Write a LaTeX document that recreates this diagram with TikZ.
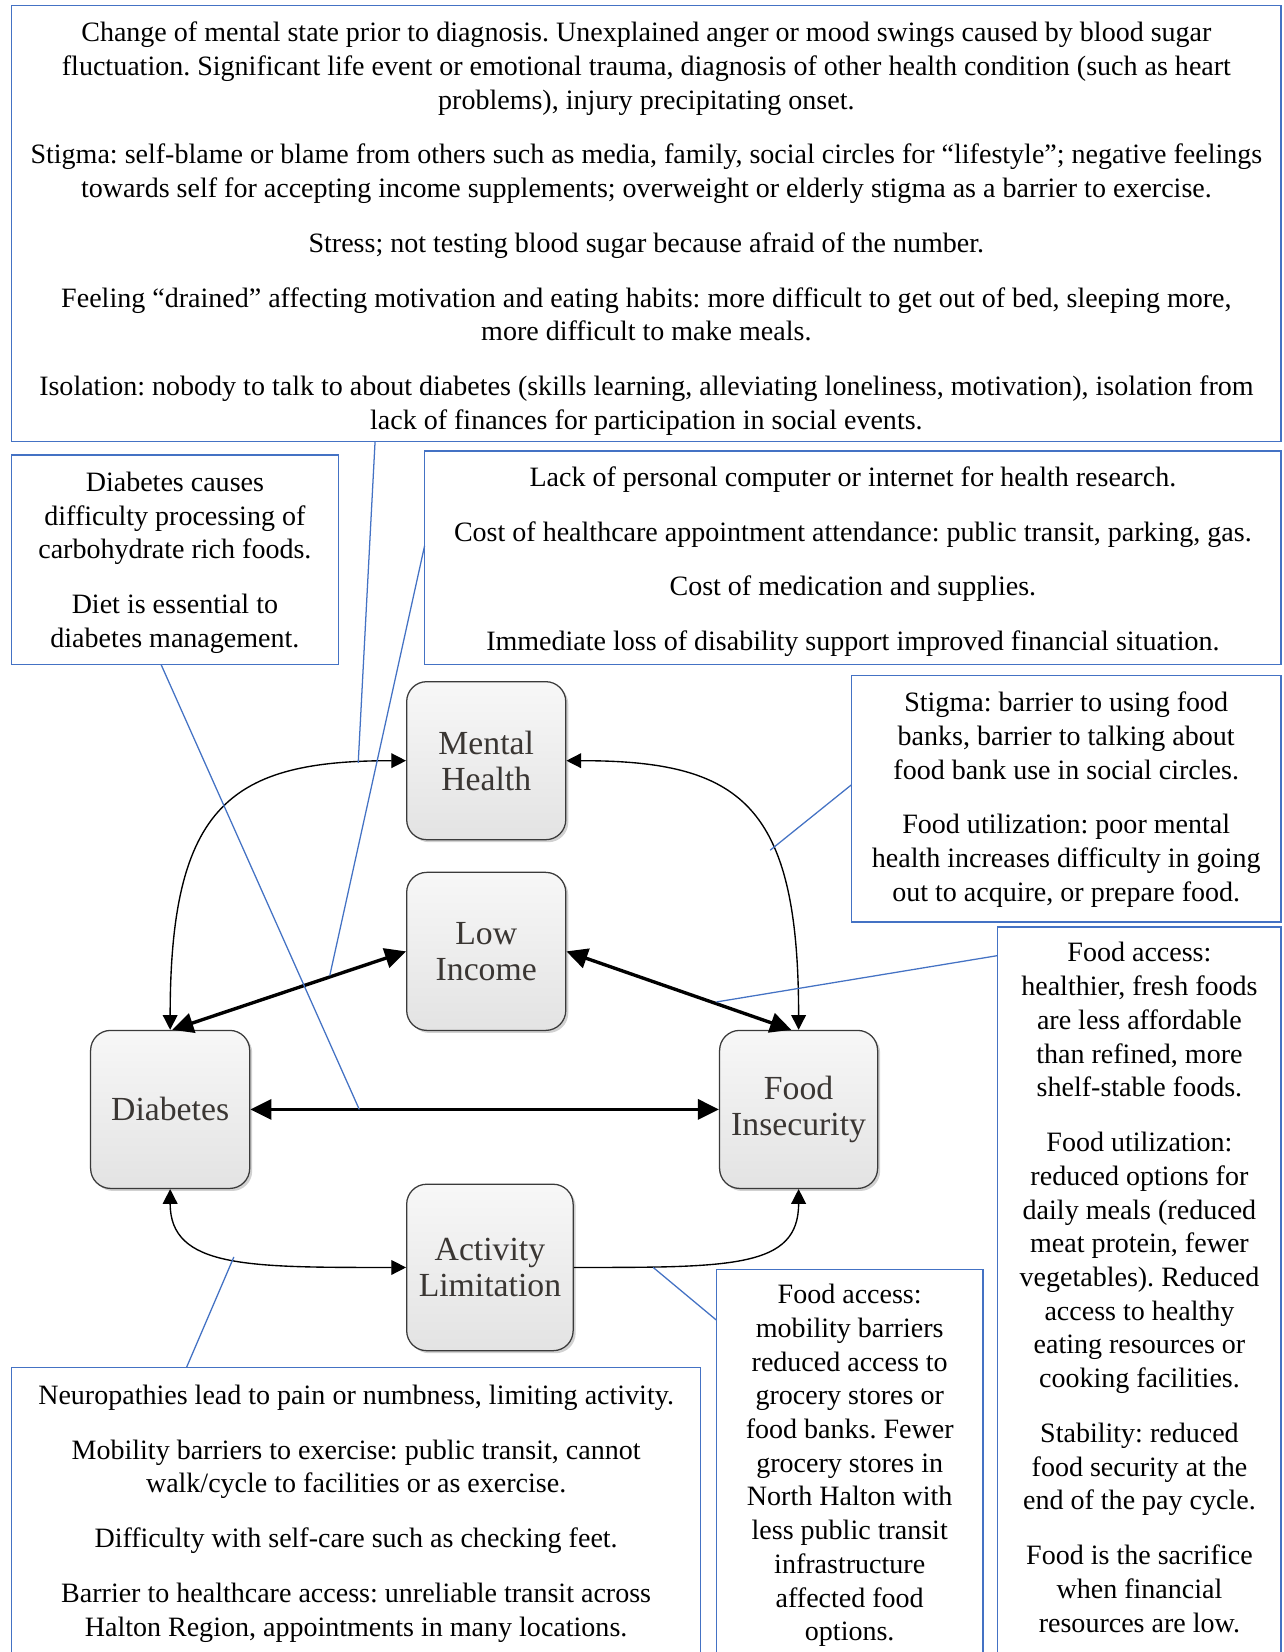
\documentclass[tikz,border=0pt]{standalone}
\usepackage{fontspec}
\setmainfont{Liberation Serif}
\usetikzlibrary{arrows.meta,shadows,fit}
\definecolor{cblue}{HTML}{4472C4}
\definecolor{nodetext}{HTML}{3A3633}
\definecolor{nodeborder}{HTML}{3A3A3A}
\frenchspacing
\begin{document}
\begin{tikzpicture}[x=0.5pt,y=-0.5pt,
  tbox/.style={draw=cblue, line width=0.65pt, inner sep=0pt},
  txt/.style={align=center, font=\fontsize{13.3}{16}\selectfont\frenchspacing, inner sep=0pt, text=black},
  cnode/.style={draw=nodeborder, line width=0.6pt, rounded corners=9.5pt,
    top color=white!97!black, bottom color=white!89!black,
    minimum width=75.5pt, minimum height=75pt, inner sep=0pt, align=center,
    font=\fontsize{16}{17}\selectfont, text=nodetext,
    drop shadow={shadow xshift=1.2pt, shadow yshift=-1.2pt, opacity=0.18, fill=black}},
  thickarrow/.style={line width=1.6pt, {Triangle[length=10pt,width=9.5pt]}-{Triangle[length=10pt,width=9.5pt]}},
  thinarrow/.style={line width=0.65pt, {Triangle[length=7pt,width=7pt]}-{Triangle[length=7pt,width=7pt]}},
  thinarrowone/.style={line width=0.65pt, -{Triangle[length=7pt,width=7pt]}},
  callout/.style={draw=cblue, line width=0.6pt}
]
\useasboundingbox (0,0) rectangle (1218,1568);
\clip (0,0) rectangle (1218,1568);
\fill[white] (0,0) rectangle (1218,1568);

% ---------- text boxes ----------
\node[tbox, fit={(11,5) (1216,419)}] (tb) {};
\node[txt] (tbt) at (613.5,217) {Change of mental state prior to diagnosis. Unexplained anger or mood swings caused by blood sugar\\
fluctuation. Significant life event or emotional trauma, diagnosis of other health condition (such as heart\\
problems), injury precipitating onset.\\[10pt]
Stigma: self-blame or blame from others such as media, family, social circles for “lifestyle”; negative feelings\\
towards self for accepting income supplements; overweight or elderly stigma as a barrier to exercise.\\[10pt]
Stress; not testing blood sugar because afraid of the number.\\[10pt]
Feeling “drained” affecting motivation and eating habits: more difficult to get out of bed, sleeping more,\\
more difficult to make meals.\\[10pt]
Isolation: nobody to talk to about diabetes (skills learning, alleviating loneliness, motivation), isolation from\\
lack of finances for participation in social events.};

\node[tbox, fit={(11,432) (321,631)}] (lb) {};
\node[txt] (lbt) at (166,534) {Diabetes causes\\ difficulty processing of\\ carbohydrate rich foods.\\[10pt]
Diet is essential to\\ diabetes management.};

\node[tbox, fit={(403,428) (1216,631)}] (fb) {};
\node[txt] (fbt) at (809.5,533) {Lack of personal computer or internet for health research.\\[10pt]
Cost of healthcare appointment attendance: public transit, parking, gas.\\[10pt]
Cost of medication and supplies.\\[10pt]
Immediate loss of disability support improved financial situation.};

\node[tbox, fit={(808,641) (1216,875)}] (sb) {};
\node[txt] (sbt) at (1012,759) {Stigma: barrier to using food\\ banks, barrier to talking about\\ food bank use in social circles.\\[10pt]
Food utilization: poor mental\\ health increases difficulty in going\\ out to acquire, or prepare food.};

\node[tbox, fit={(947,880) (1216,1580)}] (rb) {};
\node[txt] (rbt) at (1081.5,1222) {Food access:\\ healthier, fresh foods\\ are less affordable\\ than refined, more\\ shelf-stable foods.\\[10pt]
Food utilization:\\ reduced options for\\ daily meals (reduced\\ meat protein, fewer\\ vegetables). Reduced\\ access to healthy\\ eating resources or\\ cooking facilities.\\[10pt]
Stability: reduced\\ food security at the\\ end of the pay cycle.\\[10pt]
Food is the sacrifice\\ when financial\\ resources are low.};

\node[tbox, fit={(680,1205) (933,1580)}] (mb) {};
\node[txt] (mbt) at (806.5,1391) {Food access:\\ mobility barriers\\ reduced access to\\ grocery stores or\\ food banks. Fewer\\ grocery stores in\\ North Halton with\\ less public transit\\ infrastructure\\ affected food\\ options.};

\node[tbox, fit={(11,1298) (665,1580)}] (bb) {};
\node[txt] (bbt) at (338,1436.5) {Neuropathies lead to pain or numbness, limiting activity.\\[10pt]
Mobility barriers to exercise: public transit, cannot\\ walk/cycle to facilities or as exercise.\\[10pt]
Difficulty with self-care such as checking feet.\\[10pt]
Barrier to healthcare access: unreliable transit across\\ Halton Region, appointments in many locations.};

% ---------- central nodes ----------
\node[cnode] (MH) at (461.5,722) {Mental\\Health};
\node[cnode] (LI) at (461.5,903) {Low\\Income};
\node[cnode] (D) at (161.5,1053) {Diabetes};
\node[cnode, minimum width=75pt] (FI) at (758,1053) {Food\\Insecurity};
\node[cnode, minimum width=79pt, minimum height=79pt] (AL) at (465,1203) {Activity\\Limitation};

% ---------- connectors ----------
\draw[thinarrow] (MH.west) .. controls +(-165,0) and +(0,-215) .. (D.north);
\draw[thinarrow] (MH.east) .. controls +(165,0) and +(0,-215) .. (FI.north);
\draw[thinarrow] (D.south) .. controls +(0,75) and +(-150,0) .. (AL.west);
\draw[thinarrowone] (AL.east) .. controls +(150,0) and +(0,75) .. (FI.south);
\draw[thickarrow] ([xshift=1pt]D.north) -- (LI.west);
\draw[thickarrow] (LI.east) -- ([xshift=-3.5pt]FI.north);
\draw[thickarrow] (D) -- (FI);

% ---------- callout lines ----------
\coordinate (k1a) at (356,419);  \coordinate (k1b) at (340,724);
\coordinate (k2a) at (153,631);  \coordinate (k2b) at (341,1053);
\coordinate (k3a) at (403,518);  \coordinate (k3b) at (313,926);
\coordinate (k4a) at (808,745);  \coordinate (k4b) at (731,807);
\coordinate (k5a) at (947,907);  \coordinate (k5b) at (680,951);
\coordinate (k6a) at (680,1253); \coordinate (k6b) at (620,1203);
\coordinate (k7a) at (177,1298); \coordinate (k7b) at (222,1193);
\draw[callout] (k1a) -- (k1b);
\draw[callout] (k2a) -- (k2b);
\draw[callout] (k3a) -- (k3b);
\draw[callout] (k4a) -- (k4b);
\draw[callout] (k5a) -- (k5b);
\draw[callout] (k6a) -- (k6b);
\draw[callout] (k7a) -- (k7b);
\end{tikzpicture}
\end{document}
